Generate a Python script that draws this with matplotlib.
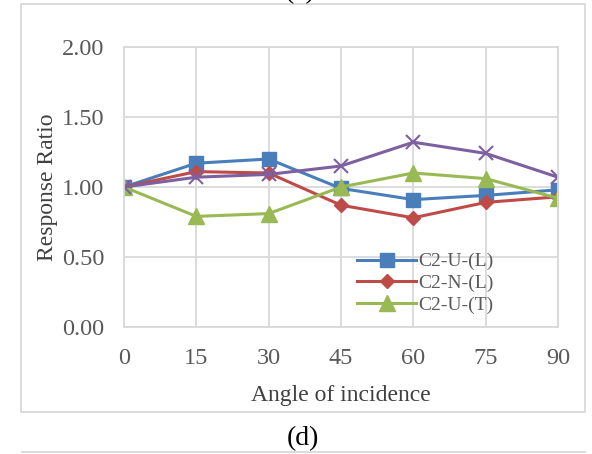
import matplotlib.pyplot as plt
from matplotlib.patches import Rectangle
from matplotlib.lines import Line2D

plt.rcParams['font.family'] = ['Liberation Serif', 'DejaVu Serif']

angles = [0, 15, 30, 45, 60, 75, 90]
c2_u_l = [1.00, 1.17, 1.20, 0.99, 0.91, 0.94, 0.98]
c2_n_l = [1.00, 1.11, 1.10, 0.87, 0.78, 0.89, 0.93]
c2_u_t = [1.00, 0.79, 0.81, 1.00, 1.10, 1.06, 0.92]
c2_x = [1.00, 1.07, 1.09, 1.15, 1.32, 1.24, 1.07]
y_ticks = [0.0, 0.5, 1.0, 1.5, 2.0]

fig = plt.figure(figsize=(5.92, 4.54), dpi=100)
ax = fig.add_axes([124 / 592, 1 - 327 / 454, 434 / 592, 280 / 454])

# frame around the chart + rule under the caption
fig.patches.append(Rectangle((21 / 592, 1 - 412 / 454), 564 / 592, 408 / 454,
                             transform=fig.transFigure, fill=False,
                             edgecolor='#d9d9d9', lw=1.3))
fig.lines.append(Line2D([22 / 592, 585 / 592], [1 - 452 / 454] * 2,
                        transform=fig.transFigure, color='#d9d9d9', lw=1.3))

ax.plot(angles, c2_u_l, color='#4a7ebb', lw=2.2, marker='s', ms=10, label='C2-U-(L)')
ax.plot(angles, c2_n_l, color='#be4b48', lw=2.2, marker='D', ms=7.5, label='C2-N-(L)')
ax.plot(angles, c2_u_t, color='#98b954', lw=2.2, marker='^', ms=11, label='C2-U-(T)')
ax.plot(angles, c2_x, color='#7d60a0', lw=2.2, marker='x', ms=10, mew=1.5, label='_nolegend_')

ax.set_xlim(0, 90)
ax.set_ylim(0, 2)
ax.set_xticks(angles)
ax.set_yticks(y_ticks)
ax.set_yticklabels(['%.2f' % v for v in y_ticks])
ax.grid(True, color='#d9d9d9', lw=1.3)
ax.set_axisbelow(True)
for s in ax.spines.values():
    s.set_color('#d9d9d9')
    s.set_linewidth(1.3)
ax.tick_params(axis='y', length=0, labelsize=17.5, colors='#595959', pad=14)
ax.tick_params(axis='x', length=0, labelsize=17.5, colors='#595959', pad=15)
ax.set_xlabel('Angle of incidence', fontsize=17, color='#404040', labelpad=12)
ax.set_ylabel('Response Ratio', fontsize=17, color='#404040', labelpad=3)

leg = ax.legend(loc='lower left', bbox_to_anchor=(0.52, 0.02), frameon=False,
                fontsize=14, handlelength=3.0, handletextpad=0.15, labelspacing=0.2,
                labelcolor='#595959', borderaxespad=0)

fig.text(303 / 592, 1 - 439 / 454, '(d)', ha='center', va='center', fontsize=20)
fig.text(300 / 592, 1 + 8 / 454, '(c)', ha='center', va='center', fontsize=20)

fig.savefig('out.png', dpi=100)
